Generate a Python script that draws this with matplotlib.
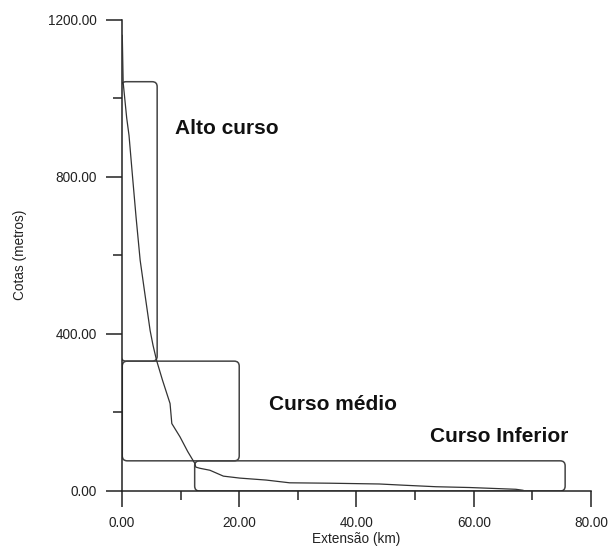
"""Longitudinal profile of the river with alto / médio / inferior course boxes."""
import matplotlib
matplotlib.use("Agg")
import matplotlib.pyplot as plt
from matplotlib.patches import FancyBboxPatch
from matplotlib.ticker import MultipleLocator, FormatStrFormatter

plt.rcParams["font.family"] = ["Liberation Sans", "DejaVu Sans"]

# profile
EXT_KM = [0.05, 0.2, 0.4, 0.8, 1.2, 1.8, 2.4, 3.1, 3.9, 4.8, 5.3, 5.9, 6.9,
          8.2, 8.5, 9.9, 11.2, 12.4, 12.6, 13.3, 15.0, 17.3, 20.1, 24.6,
          28.6, 35.4, 43.9, 47.9, 53.6, 59.3, 67.2, 68.4]
COTA_M = [1160, 1040, 1010, 950, 905, 800, 697, 587, 502, 408, 370, 332, 282,
          222, 171, 137, 100, 70, 60, 57, 52, 37, 32, 27,
          20, 19, 17, 14, 10, 8, 3.5, 1]

# course boxes: (x0, y0, x1, y1)
BOX_NAMES = ["Alto curso", "Curso médio", "Curso Inferior"]
BOX_X0 = [-0.15, 0.05, 12.4]
BOX_Y0 = [330, 76, -1]
BOX_X1 = [6.0, 20.0, 75.6]
BOX_Y1 = [1042, 330, 76]
LABEL_X = [9.0, 25.0, 52.5]
LABEL_Y = [923, 220, 137]

fig = plt.figure(figsize=(6.13, 5.47), dpi=100)
ax = fig.add_axes([0.199, 0.103, 0.765, 0.861])

ax.plot(EXT_KM, COTA_M, color="#333333", linewidth=0.9, zorder=3)

for x0, y0, x1, y1 in zip(BOX_X0, BOX_Y0, BOX_X1, BOX_Y1):
    ax.add_patch(FancyBboxPatch(
        (x0, y0), x1 - x0, y1 - y0,
        boxstyle="round,pad=0,rounding_size=0.85", mutation_aspect=15,
        facecolor="none", edgecolor="#444444", linewidth=1.1, zorder=2))

for name, lx, ly in zip(BOX_NAMES, LABEL_X, LABEL_Y):
    ax.text(lx, ly, name, fontsize=15, fontweight="bold", color="#111111",
            ha="left", va="center")

ax.set_xlim(0, 80)
ax.set_ylim(0, 1200)
ax.xaxis.set_major_locator(MultipleLocator(20))
ax.xaxis.set_minor_locator(MultipleLocator(10))
ax.yaxis.set_major_locator(MultipleLocator(400))
ax.yaxis.set_minor_locator(MultipleLocator(200))
ax.xaxis.set_major_formatter(FormatStrFormatter("%.2f"))
ax.yaxis.set_major_formatter(FormatStrFormatter("%.2f"))

for side in ("top", "right"):
    ax.spines[side].set_visible(False)
for side in ("left", "bottom"):
    ax.spines[side].set_linewidth(1.1)
    ax.spines[side].set_color("#222222")

ax.tick_params(which="major", direction="out", length=11.5, width=1.1,
               pad=6.5, labelsize=9.8, color="#222222", labelcolor="#222222")
ax.tick_params(which="minor", direction="out", length=6.5, width=1.1,
               color="#222222")

ax.set_xlabel("Extensão (km)", fontsize=9.8, color="#222222", labelpad=1.5)
ax.set_ylabel("Cotas (metros)", fontsize=9.8, color="#222222", labelpad=15)

fig.savefig("out.png", dpi=100)
